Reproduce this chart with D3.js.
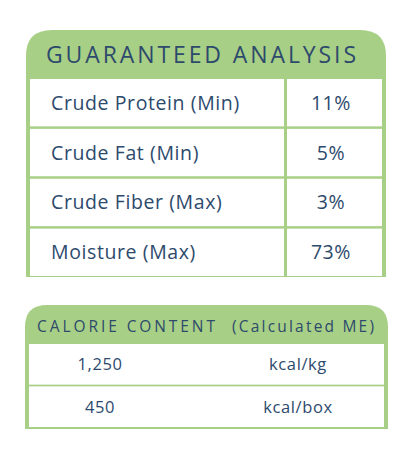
<!DOCTYPE html>
<html><head><meta charset="utf-8">
<script src="https://cdn.jsdelivr.net/npm/d3@7"></script>
<style>body{margin:0;background:#fff}</style>
</head><body>
<svg id="c" width="416" height="458"></svg>
<script>
const nutrients = ["Crude Protein (Min)", "Crude Fat (Min)", "Crude Fiber (Max)", "Moisture (Max)"];
const percents = ["11%", "5%", "3%", "73%"];
const calValues = ["1,250", "450"];
const calUnits = ["kcal/kg", "kcal/box"];

const green = "#a8cf86", ink = "#2d4a6c", font = "'Open Sans', 'Noto Sans', sans-serif";
const svg = d3.select("#c");

function topRounded(x, y, w, h, r) {
  return `M${x},${y + h}V${y + r}Q${x},${y} ${x + r},${y}H${x + w - r}Q${x + w},${y} ${x + w},${y + r}V${y + h}Z`;
}

// guaranteed analysis
svg.append("path").attr("d", topRounded(26, 30, 360, 247, 26)).attr("fill", green);
svg.append("text").attr("x", 46).attr("y", 63)
  .attr("fill", ink).attr("font-family", font).attr("font-size", 23).attr("font-weight", 500)
  .attr("textLength", 310).attr("lengthAdjust", "spacing").text("GUARANTEED ANALYSIS");

const y1 = d3.scaleBand().domain(d3.range(nutrients.length)).range([79, 276]).paddingInner(0.05);
const rows = svg.selectAll(".ga").data(nutrients).join("g").attr("class", "ga");
rows.append("rect").attr("x", 30).attr("width", 254).attr("y", (d, i) => y1(i)).attr("height", y1.bandwidth()).attr("fill", "#fff");
rows.append("rect").attr("x", 287).attr("width", 95).attr("y", (d, i) => y1(i)).attr("height", y1.bandwidth()).attr("fill", "#fff");
rows.append("text").attr("x", 51).attr("y", (d, i) => y1(i) + y1.bandwidth() / 2 + 7)
  .attr("fill", ink).attr("font-family", font).attr("font-size", 19.5).attr("font-weight", 500)
  .attr("letter-spacing", 0.6).text(d => d);
rows.append("text").attr("x", 331).attr("y", (d, i) => y1(i) + y1.bandwidth() / 2 + 7).attr("text-anchor", "middle")
  .attr("fill", ink).attr("font-family", font).attr("font-size", 19.5).attr("font-weight", 500)
  .attr("letter-spacing", 0.6).text((d, i) => percents[i]);

// calorie content
svg.append("path").attr("d", topRounded(25, 305, 363, 124, 22)).attr("fill", green);
svg.append("text").attr("x", 37).attr("y", 332).attr("fill", ink).attr("font-family", font)
  .attr("font-size", 15.5).attr("font-weight", 500).attr("textLength", 178).attr("lengthAdjust", "spacing")
  .text("CALORIE CONTENT");
svg.append("text").attr("x", 232).attr("y", 332).attr("fill", ink).attr("font-family", font)
  .attr("font-size", 15.5).attr("font-weight", 500).attr("textLength", 142).attr("lengthAdjust", "spacing")
  .text("(Calculated ME)");

const y2 = d3.scaleBand().domain(d3.range(calValues.length)).range([344, 427]).paddingInner(0.04);
const crow = svg.selectAll(".cc").data(calValues).join("g").attr("class", "cc");
crow.append("rect").attr("x", 29).attr("width", 355).attr("y", (d, i) => y2(i)).attr("height", y2.bandwidth()).attr("fill", "#fff");
crow.append("text").attr("x", 100).attr("y", (d, i) => y2(i) + y2.bandwidth() / 2 + 6).attr("text-anchor", "middle")
  .attr("fill", ink).attr("font-family", font).attr("font-size", 16.5).attr("font-weight", 500)
  .attr("letter-spacing", 0.6).text(d => d);
crow.append("text").attr("x", 298).attr("y", (d, i) => y2(i) + y2.bandwidth() / 2 + 6).attr("text-anchor", "middle")
  .attr("fill", ink).attr("font-family", font).attr("font-size", 16.5).attr("font-weight", 500)
  .attr("letter-spacing", 0.6).text((d, i) => calUnits[i]);
</script>
</body></html>
